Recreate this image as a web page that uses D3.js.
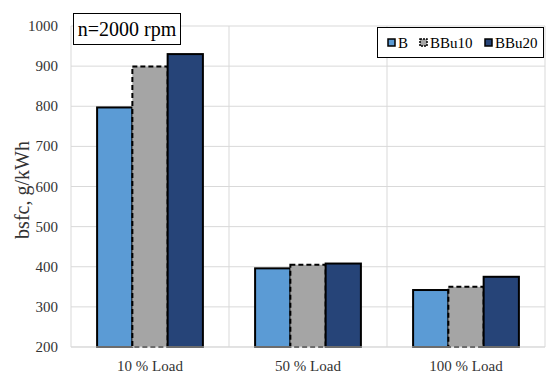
<!DOCTYPE html>
<html>
<head>
<meta charset="utf-8">
<script src="https://cdn.jsdelivr.net/npm/d3@7"></script>
<style>
  body { margin: 0; background: #fff; }
  text { font-family: "Liberation Serif", "Times New Roman", serif; }
</style>
</head>
<body>
<div id="chart"></div>
<script>
// data
const loads = ['10 % Load', '50 % Load', '100 % Load'];
const fuels = ['B', 'BBu10', 'BBu20'];
const bValues = [797, 396, 342];
const bbu10Values = [899, 405, 350];
const bbu20Values = [930, 408, 375];
const yTicks = [200, 300, 400, 500, 600, 700, 800, 900, 1000];

const seriesValues = { B: bValues, BBu10: bbu10Values, BBu20: bbu20Values };
const colors = { B: '#5b9bd5', BBu10: '#a5a5a5', BBu20: '#264478' };

const W = 547, H = 374;
const margin = { top: 26, right: 2, bottom: 27, left: 71 };
const width = W - margin.left - margin.right;
const height = H - margin.top - margin.bottom;

const svg = d3.select('#chart').append('svg')
  .attr('width', W)
  .attr('height', H);

const chart = svg.append('g')
  .attr('transform', `translate(${margin.left},${margin.top})`);

const x = d3.scaleBand().domain(loads).range([0, width]).paddingInner(0).paddingOuter(0);
const xInner = d3.scaleBand().domain(fuels)
  .range([0, x.bandwidth()])
  .paddingOuter(0.74).paddingInner(0);
const y = d3.scaleLinear().domain([200, 1000]).range([height, 0]);

// horizontal grid
chart.append('g')
  .selectAll('line')
  .data(yTicks)
  .enter().append('line')
  .attr('x1', 0).attr('x2', width)
  .attr('y1', d => y(d)).attr('y2', d => y(d))
  .attr('stroke', '#d9d9d9').attr('stroke-width', 1);

// vertical separators
chart.append('g')
  .selectAll('line')
  .data(loads.slice(1).concat(['end']))
  .enter().append('line')
  .attr('x1', (d, i) => x.bandwidth() * (i + 1))
  .attr('x2', (d, i) => x.bandwidth() * (i + 1))
  .attr('y1', 0).attr('y2', height)
  .attr('stroke', '#d9d9d9').attr('stroke-width', 1);

// y axis line
chart.append('line')
  .attr('x1', 0).attr('x2', 0).attr('y1', 0).attr('y2', height)
  .attr('stroke', '#d9d9d9');

// bars
const groups = chart.selectAll('.grp')
  .data(loads)
  .enter().append('g')
  .attr('class', 'grp')
  .attr('transform', d => `translate(${x(d)},0)`);

groups.selectAll('rect')
  .data((d, i) => fuels.map(f => ({ fuel: f, value: seriesValues[f][i] })))
  .enter().append('rect')
  .attr('x', d => xInner(d.fuel))
  .attr('y', d => y(d.value))
  .attr('width', xInner.bandwidth())
  .attr('height', d => height - y(d.value))
  .attr('fill', d => colors[d.fuel])
  .attr('stroke', '#000')
  .attr('stroke-width', 2)
  .attr('stroke-dasharray', d => d.fuel === 'BBu10' ? '5,3' : null);

// bottom axis line
chart.append('line')
  .attr('x1', 0).attr('x2', width).attr('y1', height).attr('y2', height)
  .attr('stroke', '#d9d9d9');

// y tick labels
chart.append('g')
  .selectAll('text')
  .data(yTicks)
  .enter().append('text')
  .attr('x', -13)
  .attr('y', d => y(d) + 5)
  .attr('text-anchor', 'end')
  .attr('font-size', 15)
  .attr('fill', '#333')
  .text(d => d);

// x labels
chart.append('g')
  .selectAll('text')
  .data(loads)
  .enter().append('text')
  .attr('x', d => x(d) + x.bandwidth() / 2)
  .attr('y', height + 24)
  .attr('text-anchor', 'middle')
  .attr('font-size', 15)
  .attr('fill', '#333')
  .text(d => d);

// y axis title
svg.append('text')
  .attr('transform', 'translate(29,190) rotate(-90)')
  .attr('text-anchor', 'middle')
  .attr('font-size', 20)
  .attr('fill', '#333')
  .text('bsfc, g/kWh');

// title box
svg.append('rect')
  .attr('x', 73.5).attr('y', 13.5).attr('width', 107).attr('height', 31)
  .attr('fill', '#fff').attr('stroke', '#000').attr('stroke-width', 1);
svg.append('text')
  .attr('x', 127).attr('y', 36)
  .attr('text-anchor', 'middle')
  .attr('font-size', 20)
  .attr('fill', '#000')
  .text('n=2000 rpm');

// legend
const legend = svg.append('g');
legend.append('rect')
  .attr('x', 377.5).attr('y', 27.5).attr('width', 166).attr('height', 30)
  .attr('fill', '#fff').attr('stroke', '#000').attr('stroke-width', 1);

const legendX = [388, 420, 485];
const items = legend.selectAll('.item')
  .data(fuels)
  .enter().append('g')
  .attr('class', 'item')
  .attr('transform', (d, i) => `translate(${legendX[i]},43)`);

items.append('rect')
  .attr('x', 0).attr('y', -4).attr('width', 7).attr('height', 7)
  .attr('fill', d => colors[d])
  .attr('stroke', '#000')
  .attr('stroke-width', 1.5)
  .attr('stroke-dasharray', d => d === 'BBu10' ? '2,1' : null);

items.append('text')
  .attr('x', 10).attr('y', 5)
  .attr('font-size', 15)
  .attr('fill', '#000')
  .text(d => d);
</script>
</body>
</html>
